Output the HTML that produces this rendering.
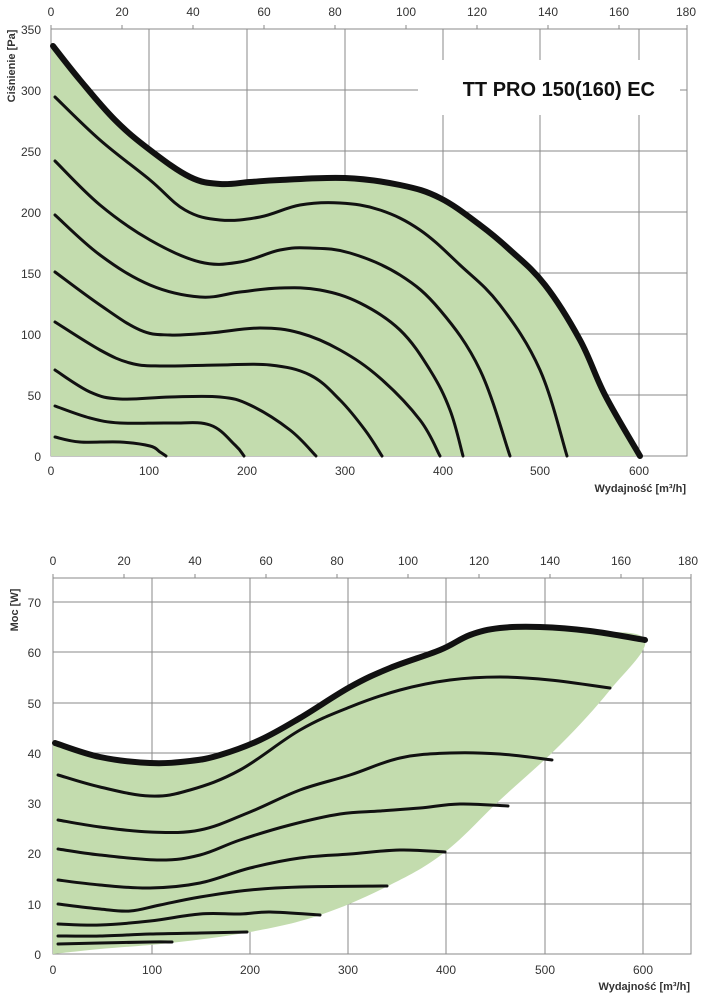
<!DOCTYPE html>
<html><head><meta charset="utf-8"><style>
body{margin:0;background:#fff;}
svg{display:block;font-family:"Liberation Sans",sans-serif;}
</style></head><body>
<svg width="714" height="1000" viewBox="0 0 714 1000">
<!-- TOP CHART -->
<g stroke="#8a8a8a" stroke-width="1" fill="none">
<rect x="51" y="29" width="636" height="427"/>
<line x1="51" y1="90" x2="687" y2="90"/><line x1="51" y1="151" x2="687" y2="151"/><line x1="51" y1="212" x2="687" y2="212"/>
<line x1="51" y1="273" x2="687" y2="273"/><line x1="51" y1="334" x2="687" y2="334"/><line x1="51" y1="395" x2="687" y2="395"/>
<line x1="149" y1="29" x2="149" y2="456"/><line x1="247" y1="29" x2="247" y2="456"/><line x1="345" y1="29" x2="345" y2="456"/>
<line x1="443" y1="29" x2="443" y2="456"/><line x1="540" y1="29" x2="540" y2="456"/><line x1="639" y1="29" x2="639" y2="456"/>
</g>
<g stroke="#8a8a8a"><line x1="51" y1="25" x2="51" y2="29"/><line x1="122" y1="25" x2="122" y2="29"/><line x1="193" y1="25" x2="193" y2="29"/><line x1="264" y1="25" x2="264" y2="29"/><line x1="335" y1="25" x2="335" y2="29"/><line x1="406" y1="25" x2="406" y2="29"/><line x1="477" y1="25" x2="477" y2="29"/><line x1="548" y1="25" x2="548" y2="29"/><line x1="619" y1="25" x2="619" y2="29"/><line x1="687" y1="25" x2="687" y2="29"/></g>
<path class="s" d="M53,46 L80,80 L115,120 L150,150 L190,177 L220,184 L250,182 L280,180 L345,178 L400,185 L440,198 L480,225 L510,250 L545,285 L580,340 L605,395 L640,456" data-close="L51,456 L51,44 Z" fill="#c3dcae"/>
<rect x="418" y="60" width="262" height="55" fill="#fff"/>
<text x="655" y="96" font-size="20" font-weight="bold" text-anchor="end" fill="#111">TT PRO 150(160) EC</text>
<g fill="none" stroke="#111" stroke-width="3" stroke-linejoin="round" stroke-linecap="round">
<path class="s" d="M55,97 L100,140 L150,180 L185,210 L220,220 L260,217 L300,205 L340,203 L380,210 L420,230 L460,265 L500,305 L540,370 L567,456"/>
<path class="s" d="M55,161 L100,205 L150,240 L200,262 L240,262 L280,250 L310,248 L350,253 L400,275 L440,310 L480,370 L510,456"/>
<path class="s" d="M55,215 L100,255 L150,285 L200,297 L240,292 L280,288 L320,290 L360,303 L400,330 L430,370 L450,410 L463,456"/>
<path class="s" d="M55,272 L100,305 L140,330 L170,335 L210,333 L260,328 L300,333 L340,350 L380,378 L420,420 L440,456"/>
<path class="s" d="M55,322 L100,350 L130,363 L160,366 L220,365 L270,365 L310,375 L340,400 L365,430 L382,456"/>
<path class="s" d="M55,370 L90,392 L120,399 L170,397 L220,397 L250,405 L290,430 L316,456"/>
<path class="s" d="M55,406 L90,418 L120,423 L170,423 L210,425 L235,445 L244,456"/>
<path class="s" d="M55,437 L80,442 L120,442 L150,446 L160,452 L166,456"/>
<path class="s" stroke-width="6" d="M53,46 L80,80 L115,120 L150,150 L190,177 L220,184 L250,182 L280,180 L345,178 L400,185 L440,198 L480,225 L510,250 L545,285 L580,340 L605,395 L640,456"/>
</g>
<g font-size="12" fill="#333" text-anchor="middle">
<text x="51" y="16">0</text><text x="122" y="16">20</text><text x="193" y="16">40</text><text x="264" y="16">60</text><text x="335" y="16">80</text><text x="406" y="16">100</text><text x="477" y="16">120</text><text x="548" y="16">140</text><text x="619" y="16">160</text><text x="686" y="16">180</text>
<text x="51" y="475">0</text><text x="149" y="475">100</text><text x="247" y="475">200</text><text x="345" y="475">300</text><text x="443" y="475">400</text><text x="540" y="475">500</text><text x="639" y="475">600</text>
</g>
<g font-size="12" fill="#333" text-anchor="end">
<text x="41" y="34">350</text><text x="41" y="95">300</text><text x="41" y="156">250</text><text x="41" y="217">200</text><text x="41" y="278">150</text><text x="41" y="339">100</text><text x="41" y="400">50</text><text x="41" y="461">0</text>
</g>
<text x="686" y="492" font-size="11" font-weight="bold" fill="#333" text-anchor="end">Wydajność [m³/h]</text>
<text transform="translate(15,66) rotate(-90)" font-size="11" font-weight="bold" fill="#333" text-anchor="middle">Ciśnienie [Pa]</text>

<!-- BOTTOM CHART -->
<g stroke="#8a8a8a" stroke-width="1" fill="none">
<rect x="53" y="578" width="638" height="376"/>
<line x1="53" y1="602" x2="691" y2="602"/><line x1="53" y1="652" x2="691" y2="652"/><line x1="53" y1="703" x2="691" y2="703"/>
<line x1="53" y1="753" x2="691" y2="753"/><line x1="53" y1="803" x2="691" y2="803"/><line x1="53" y1="853" x2="691" y2="853"/><line x1="53" y1="904" x2="691" y2="904"/>
<line x1="152" y1="578" x2="152" y2="954"/><line x1="250" y1="578" x2="250" y2="954"/><line x1="348" y1="578" x2="348" y2="954"/>
<line x1="446" y1="578" x2="446" y2="954"/><line x1="545" y1="578" x2="545" y2="954"/><line x1="643" y1="578" x2="643" y2="954"/>
</g>
<g stroke="#8a8a8a"><line x1="53" y1="574" x2="53" y2="578"/><line x1="124" y1="574" x2="124" y2="578"/><line x1="195" y1="574" x2="195" y2="578"/><line x1="266" y1="574" x2="266" y2="578"/><line x1="337" y1="574" x2="337" y2="578"/><line x1="408" y1="574" x2="408" y2="578"/><line x1="479" y1="574" x2="479" y2="578"/><line x1="550" y1="574" x2="550" y2="578"/><line x1="621" y1="574" x2="621" y2="578"/><line x1="691" y1="574" x2="691" y2="578"/></g>
<path class="s" d="M53,743 L100,757 L150,763 L190,761 L220,755 L260,740 L300,718 L350,687 L390,668 L440,650 L470,635 L500,628 L540,627 L590,631 L645,640 L610,690 L560,745 L500,800 L445,852 L390,885 L320,915 L250,932 L170,943 L100,949 L53,954" data-close="Z" fill="#c3dcae"/>
<g fill="none" stroke="#111" stroke-width="3" stroke-linejoin="round" stroke-linecap="round">
<path class="s" d="M58,775 L100,787 L150,796 L190,790 L240,770 L300,730 L350,707 L400,690 L450,680 L500,677 L550,680 L610,688"/>
<path class="s" d="M58,820 L100,827 L150,832 L200,830 L250,812 L300,790 L350,775 L400,758 L450,753 L500,754 L552,760"/>
<path class="s" d="M58,849 L100,855 L160,860 L200,855 L240,840 L290,825 L340,814 L380,811 L420,808 L460,804 L508,806"/>
<path class="s" d="M58,880 L100,885 L150,888 L200,883 L250,868 L300,858 L350,854 L400,850 L445,852"/>
<path class="s" d="M58,904 L100,909 L130,911 L160,905 L200,897 L250,890 L300,887 L387,886"/>
<path class="s" d="M58,924 L100,925 L150,921 L200,914 L240,914 L270,912 L320,915"/>
<path class="s" d="M58,936 L100,936 L150,934 L200,933 L247,932"/>
<path class="s" d="M58,944 L100,943 L150,942 L172,942"/>
<path class="s" stroke-width="6" d="M55,743 L100,757 L150,763 L190,761 L220,755 L260,740 L300,718 L350,687 L390,668 L440,650 L470,635 L500,628 L540,627 L590,631 L645,640"/>
</g>
<g font-size="12" fill="#333" text-anchor="middle">
<text x="53" y="565">0</text><text x="124" y="565">20</text><text x="195" y="565">40</text><text x="266" y="565">60</text><text x="337" y="565">80</text><text x="408" y="565">100</text><text x="479" y="565">120</text><text x="550" y="565">140</text><text x="621" y="565">160</text><text x="688" y="565">180</text>
<text x="53" y="974">0</text><text x="152" y="974">100</text><text x="250" y="974">200</text><text x="348" y="974">300</text><text x="446" y="974">400</text><text x="545" y="974">500</text><text x="643" y="974">600</text>
</g>
<g font-size="12" fill="#333" text-anchor="end">
<text x="41" y="607">70</text><text x="41" y="657">60</text><text x="41" y="708">50</text><text x="41" y="758">40</text><text x="41" y="808">30</text><text x="41" y="858">20</text><text x="41" y="909">10</text><text x="41" y="959">0</text>
</g>
<text x="690" y="990" font-size="11" font-weight="bold" fill="#333" text-anchor="end">Wydajność [m³/h]</text>
<text transform="translate(18,610) rotate(-90)" font-size="11" font-weight="bold" fill="#333" text-anchor="middle">Moc [W]</text>
</svg>
<script>
document.querySelectorAll('path.s').forEach(function(p){
  var nums=p.getAttribute('d').match(/-?[\d.]+/g).map(Number);
  var pts=[];for(var i=0;i<nums.length;i+=2)pts.push([nums[i],nums[i+1]]);
  var d='M'+pts[0][0]+','+pts[0][1];
  for(var i=0;i<pts.length-1;i++){
    var p0=pts[i-1]||pts[i],p1=pts[i],p2=pts[i+1],p3=pts[i+2]||p2;
    var t=0.18;
    d+=' C'+(p1[0]+(p2[0]-p0[0])*t)+','+(p1[1]+(p2[1]-p0[1])*t)+' '+(p2[0]-(p3[0]-p1[0])*t)+','+(p2[1]-(p3[1]-p1[1])*t)+' '+p2[0]+','+p2[1];
  }
  var c=p.getAttribute('data-close');if(c)d+=' '+c;
  p.setAttribute('d',d);
});
</script>
</body></html>
